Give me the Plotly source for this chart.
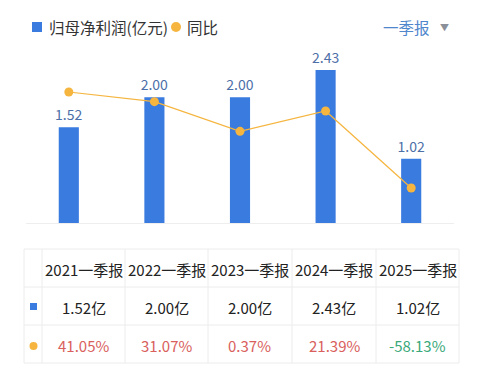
import plotly.graph_objects as go

periods = ["2021一季报", "2022一季报", "2023一季报", "2024一季报", "2025一季报"]
profit = [1.52, 2.00, 2.00, 2.43, 1.02]          # 归母净利润(亿元)
yoy = [41.05, 31.07, 0.37, 21.39, -58.13]         # 同比 (%)

OFF = 8  # default page body margin
W, H = 485 - OFF, 378 - OFF
FONT = "Noto Sans CJK SC, Noto Sans, sans-serif"
BLUE = "#3a7be0"
ORANGE = "#f5b53f"
GRID = "#ececec"

def px(x):
    return (x - OFF) / W

def py(y):
    return 1 - (y - OFF) / H

fig = go.Figure()
fig.add_trace(go.Bar(
    x=periods, y=profit, width=0.235, marker=dict(color=BLUE, line=dict(width=0)),
    text=[f"{v:.2f}" for v in profit], textposition="outside", cliponaxis=False,
    constraintext="none",
    textfont=dict(color="#4d6fa8", size=14, family=FONT), yaxis="y", name="归母净利润(亿元)",
))
fig.add_trace(go.Scatter(
    x=periods, y=yoy, mode="lines+markers", yaxis="y2", name="同比",
    line=dict(color=ORANGE, width=1.2), marker=dict(color=ORANGE, size=9),
    cliponaxis=False,
))

shapes = []
annotations = []

# legend
shapes.append(dict(type="rect", xref="paper", yref="paper", x0=px(32), x1=px(42), y0=py(32), y1=py(22),
                   fillcolor=BLUE, line=dict(width=0)))
annotations.append(dict(xref="paper", yref="paper", x=px(47), y=py(27), text="归母净利润(亿元)",
                        showarrow=False, xanchor="left", yanchor="middle",
                        font=dict(size=15.5, color="#333333", family=FONT)))
shapes.append(dict(type="circle", xref="paper", yref="paper", x0=px(171), x1=px(181), y0=py(32), y1=py(22),
                   fillcolor=ORANGE, line=dict(width=0)))
annotations.append(dict(xref="paper", yref="paper", x=px(185), y=py(27), text="同比",
                        showarrow=False, xanchor="left", yanchor="middle",
                        font=dict(size=15.5, color="#333333", family=FONT)))
annotations.append(dict(xref="paper", yref="paper", x=px(432), y=py(27), text="一季报",
                        showarrow=False, xanchor="right", yanchor="middle",
                        font=dict(size=15.5, color="#4f86cc", family=FONT)))
annotations.append(dict(xref="paper", yref="paper", x=px(444), y=py(27), text="▼",
                        showarrow=False, xanchor="center", yanchor="middle",
                        font=dict(size=9, color="#8a8f99", family=FONT)))

# table
col_edges = [24, 42, 125, 208, 292, 376, 459]
row_edges = [249, 287, 325, 363]
for yy in row_edges:
    shapes.append(dict(type="line", xref="paper", yref="paper", x0=px(col_edges[0]), x1=px(col_edges[-1]),
                       y0=py(yy), y1=py(yy), line=dict(color=GRID, width=1)))
for xx in col_edges:
    shapes.append(dict(type="line", xref="paper", yref="paper", x0=px(xx), x1=px(xx),
                       y0=py(row_edges[0]), y1=py(row_edges[-1]), line=dict(color=GRID, width=1)))

row_centers = [(row_edges[i] + row_edges[i + 1]) / 2 for i in range(3)]
for i, p in enumerate(periods):
    cx = (col_edges[i + 1] + col_edges[i + 2]) / 2
    annotations.append(dict(xref="paper", yref="paper", x=px(cx), y=py(row_centers[0] + 1), text=p,
                            showarrow=False, xanchor="center", yanchor="middle",
                            font=dict(size=15, color="#222222", family=FONT)))
    annotations.append(dict(xref="paper", yref="paper", x=px(cx), y=py(row_centers[1] + 1),
                            text=f"{profit[i]:.2f}亿", showarrow=False, xanchor="center", yanchor="middle",
                            font=dict(size=15, color="#222222", family=FONT)))
    col = "#d9605c" if yoy[i] >= 0 else "#3aa97a"
    annotations.append(dict(xref="paper", yref="paper", x=px(cx), y=py(row_centers[2] + 1),
                            text=f"{yoy[i]:.2f}%", showarrow=False, xanchor="center", yanchor="middle",
                            font=dict(size=15, color=col, family=FONT)))

shapes.append(dict(type="rect", xref="paper", yref="paper", x0=px(30), x1=px(37), y0=py(310), y1=py(303),
                   fillcolor=BLUE, line=dict(width=0)))
shapes.append(dict(type="circle", xref="paper", yref="paper", x0=px(29.5), x1=px(37.5), y0=py(350), y1=py(342),
                   fillcolor=ORANGE, line=dict(width=0)))

fig.update_layout(
    width=W, height=H, margin=dict(l=0, r=0, t=0, b=0),
    paper_bgcolor="white", plot_bgcolor="white", showlegend=False,
    font=dict(family=FONT),
    xaxis=dict(domain=[px(26), px(454)], showticklabels=False, showgrid=False, zeroline=False,
               showline=True, linecolor="#eeeeee", linewidth=1, ticks=""),
    yaxis=dict(domain=[py(223), py(60)], range=[0, 2.59], visible=False, showgrid=False),
    yaxis2=dict(overlaying="y", range=[-94.3, 74.1], visible=False, showgrid=False),
    shapes=shapes, annotations=annotations, bargap=0.7,
)

fig.write_html("out.html")
